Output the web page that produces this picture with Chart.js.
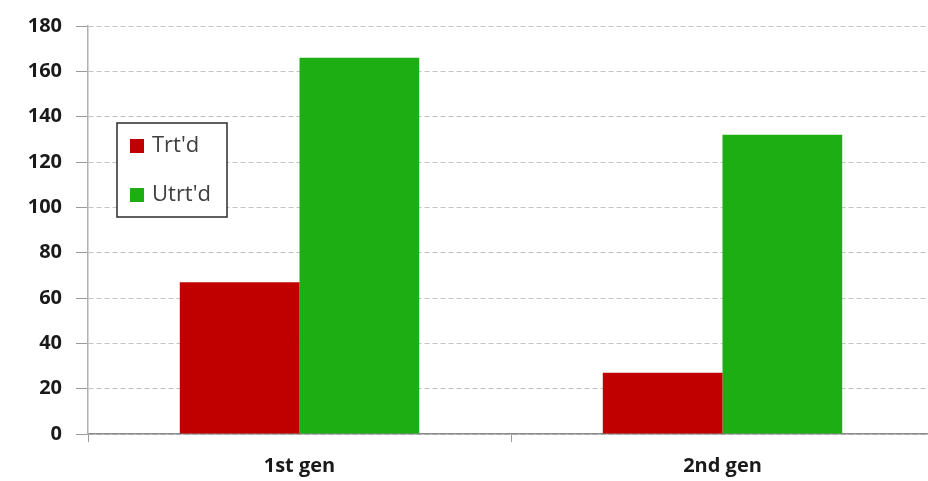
<!DOCTYPE html>
<html>
<head>
<meta charset="utf-8">
<script src="https://cdn.jsdelivr.net/npm/chart.js@4/dist/chart.umd.min.js"></script>
<style>
html,body{margin:0;padding:0;background:#fff;overflow:hidden;}
#wrap{position:relative;width:934px;height:481px;}
</style>
</head>
<body>
<div id="wrap"><canvas id="c"></canvas></div>
<script>
const categories = ["1st gen", "2nd gen"];
const treated = [67, 27];
const untreated = [166, 132];
const seriesNames = ["Trt'd", "Utrt'd"];
const seriesColors = ["#C00000", "#1DAE14"];
const yMin = 0, yMax = 180, yStep = 20;

const FONT = "'Open Sans', 'Liberation Sans', sans-serif";

const boxLegend = {
  id: 'boxLegend',
  afterDraw(chart) {
    const ctx = chart.ctx;
    const x0 = 117, y0 = 123, w = 110, h = 94;
    ctx.save();
    ctx.fillStyle = '#fff';
    ctx.fillRect(x0, y0, w, h);
    ctx.strokeStyle = '#2b2b2b';
    ctx.lineWidth = 1.5;
    ctx.strokeRect(x0, y0, w, h);
    const rows = [146, 195];
    chart.data.datasets.forEach((ds, i) => {
      ctx.fillStyle = ds.backgroundColor;
      ctx.fillRect(x0 + 13, rows[i] - 7, 14, 14);
      ctx.fillStyle = '#404040';
      ctx.font = "400 22px " + FONT;
      ctx.textBaseline = 'middle';
      ctx.textAlign = 'left';
      ctx.fillText(ds.label, x0 + 35, rows[i]);
    });
    ctx.restore();
  }
};

new Chart(document.getElementById('c'), {
  type: 'bar',
  data: {
    labels: categories,
    datasets: [
      { label: seriesNames[0], data: treated, backgroundColor: seriesColors[0], borderWidth: 0 },
      { label: seriesNames[1], data: untreated, backgroundColor: seriesColors[1], borderWidth: 0 }
    ]
  },
  options: {
    responsive: true,
    maintainAspectRatio: false,
    animation: false,
    devicePixelRatio: 1,
    layout: { padding: { top: 24, left: 0, right: 0, bottom: 0 } },
    datasets: { bar: { categoryPercentage: 0.566, barPercentage: 1.0 } },
    plugins: { legend: { display: false }, tooltip: { enabled: false } },
    scales: {
      x: {
        afterFit(s) { s.height = 47; },
        grid: { display: true, drawOnChartArea: false, drawTicks: true, tickLength: 8, color: '#9a9a9a', offset: true },
        border: { display: true, color: '#8a8a8a', width: 1.5 },
        ticks: { color: '#1a1a1a', font: { family: FONT, size: 20, weight: '700' }, padding: 12 }
      },
      y: {
        min: yMin, max: yMax,
        afterFit(s) { s.width = 88; },
        grid: { color: '#c4c4c4', tickLength: 12, tickColor: '#9a9a9a', tickBorderDash: [] },
        border: { display: true, color: '#b0b0b0', width: 1.5, dash: [5, 3] },
        ticks: { stepSize: yStep, color: '#1a1a1a', font: { family: FONT, size: 20, weight: '700' }, padding: 14 }
      }
    }
  },
  plugins: [boxLegend]
});
</script>
</body>
</html>
